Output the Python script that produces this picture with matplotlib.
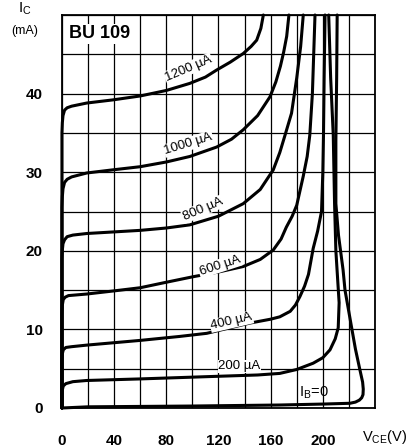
import numpy as np
import matplotlib
matplotlib.use('Agg')
import matplotlib.pyplot as plt

plt.rcParams['font.family'] = ['Liberation Sans', 'DejaVu Sans']

# ── DATA ─────────────────────────────────────────────────────────────────────
# V_CE (V) / I_C (mA) per base current
V_1200 = [0, 0, 0.3, 0.8, 2, 4, 7.4, 19, 39, 60, 80, 98, 110, 118.6, 129, 139, 145,
          149.3, 152.5, 154.4]
I_1200 = [0, 35, 36.3, 37.2, 37.9, 38.2, 38.4, 38.8, 39.2, 39.7, 40.4, 41.3, 42.1, 43, 44,
          45.1, 46, 46.8, 48.3, 50]

V_1000 = [0, 0, 0.3, 0.8, 2, 4, 7.4, 19, 39, 60, 80, 98, 118.6, 130, 139, 150, 159.5, 164,
          167.5, 170, 172.3, 174]
I_1000 = [0, 25.5, 26.9, 27.9, 28.7, 29.1, 29.4, 29.9, 30.3, 30.7, 31.3, 32, 33.2, 34.2,
          35.4, 37.2, 39.6, 41.5, 43.5, 45.3, 47.3, 50]

V_800 = [0, 0, 0.3, 0.8, 2, 4, 8.4, 19, 60, 80, 98, 120, 139, 152, 162, 167, 171, 176, 180,
         183, 185]
I_800 = [0, 19, 20.1, 20.9, 21.4, 21.8, 22, 22.2, 22.6, 22.9, 23.3, 24.4, 26, 27.8, 30.3,
         32.5, 34.7, 37.5, 42, 46, 50]

V_600 = [0, 0, 0.3, 1, 2.5, 5, 19, 40, 60, 80, 100.5, 120, 139, 152, 162, 168, 172, 176.5,
         180, 185, 188, 190, 192, 193, 194]
I_600 = [0, 12, 13.1, 13.8, 14.1, 14.3, 14.5, 14.9, 15.3, 16, 16.7, 17.3, 18, 18.9, 20.1,
         21.5, 23, 24.4, 25.8, 29.5, 32, 34.7, 40, 45, 50]

V_400 = [0, 0, 0.3, 1, 3, 7.4, 19, 60, 90, 111, 144, 160, 167, 175, 179, 182.5, 186, 189,
         192.6, 196, 199, 200, 200.5, 201, 201.7]
I_400 = [0, 6, 6.9, 7.4, 7.7, 7.8, 8, 8.6, 9.1, 9.5, 10.8, 11.3, 11.6, 12.3, 13.1, 14.2,
         15.5, 17, 20.3, 22.5, 25, 30, 34.7, 42, 50]

V_200 = [0, 0, 0.3, 1, 3, 8.4, 19, 60, 113.5, 150, 167, 180, 192.6, 200, 205.5, 209.5,
         211.8, 212.5, 211.5, 210, 209, 208, 206, 204.5]
I_200 = [0, 1.8, 2.3, 2.8, 3.1, 3.35, 3.5, 3.7, 4, 4.2, 4.4, 4.9, 5.7, 6.4, 7.4, 8.8,
         10.2, 13.4, 16, 20, 26, 34.7, 42, 50]

V_0 = [0, 20, 100, 167, 200, 220.8, 225, 228, 229.8, 230.8, 231, 230.5, 228.5, 225, 222,
       217, 215.5, 212, 210, 210, 210.6, 211]
I_0 = [0, 0.15, 0.25, 0.38, 0.5, 0.6, 0.75, 1.0, 1.3, 1.7, 2.4, 3.3, 4.8, 7.5, 10.3,
       15, 17.6, 22, 26, 34, 42, 50]

CURVES = [(V_1200, I_1200), (V_1000, I_1000), (V_800, I_800), (V_600, I_600),
          (V_400, I_400), (V_200, I_200), (V_0, I_0)]

# curve labels: text, V, I, rotation
LABELS = [
    ("1200 µA", 97, 43.2, 23),
    ("1000 µA", 97, 33.6, 17),
    ("800 µA", 108, 25.3, 23),
    ("600 µA", 121, 18.1, 18),
    ("400 µA", 130, 11.0, 13),
    ("200 µA", 136, 5.3, 0),
]

X_TICKS = list(range(0, 241, 20))
X_TICK_LABELS = ['0', '', '40', '', '80', '', '120', '', '160', '', '200', '', '']
Y_TICKS = list(range(0, 51, 5))
Y_TICK_LABELS = ['0', '', '10', '', '20', '', '30', '', '40', '', '']

# ── PLOT ─────────────────────────────────────────────────────────────────────
fig = plt.figure(figsize=(4.13, 4.48), dpi=100)
ax = fig.add_axes([0.150, 0.0893, 0.758, 0.8772])

for v, i in CURVES:
    ax.plot(v, i, color='black', lw=2.2, solid_joinstyle='round',
            solid_capstyle='round', zorder=4, clip_on=False)

for txt, v, i, rot in LABELS:
    ax.text(v, i, txt, fontsize=9.5, rotation=rot, ha='center', va='center',
            rotation_mode='anchor', zorder=5,
            bbox=dict(facecolor='white', edgecolor='none', pad=0.5))

ax.text(193, 1.9, r'I$_\mathregular{B}$=0', fontsize=10.5, ha='center', va='center', zorder=5)
ax.text(5.5, 47.6, 'BU 109', fontsize=13, fontweight='bold', ha='left', va='center',
        zorder=5, bbox=dict(facecolor='white', edgecolor='none', pad=1))

ax.set_xlim(0, 240)
ax.set_ylim(0, 50)
ax.set_xticks(X_TICKS)
ax.set_xticklabels(X_TICK_LABELS, fontsize=11, fontweight='bold')
ax.set_yticks(Y_TICKS)
ax.set_yticklabels(Y_TICK_LABELS, fontsize=11, fontweight='bold')
ax.tick_params(length=0, pad=14)
ax.tick_params(axis='x', pad=19)
ax.grid(True, color='black', lw=0.9)
ax.set_axisbelow(True)
for s in ax.spines.values():
    s.set_linewidth(1.3)

fig.text(25 / 413, 1 - 9 / 448, r'I$_\mathregular{C}$', fontsize=11, ha='center', va='center')
fig.text(25 / 413, 1 - 31 / 448, '(mA)', fontsize=9, ha='center', va='center')
fig.text(362 / 413, 1 - 437 / 448, r'V$_\mathregular{CE}$(V)', fontsize=10.5, ha='left', va='center')

fig.savefig('out.png', dpi=100, facecolor='white')
